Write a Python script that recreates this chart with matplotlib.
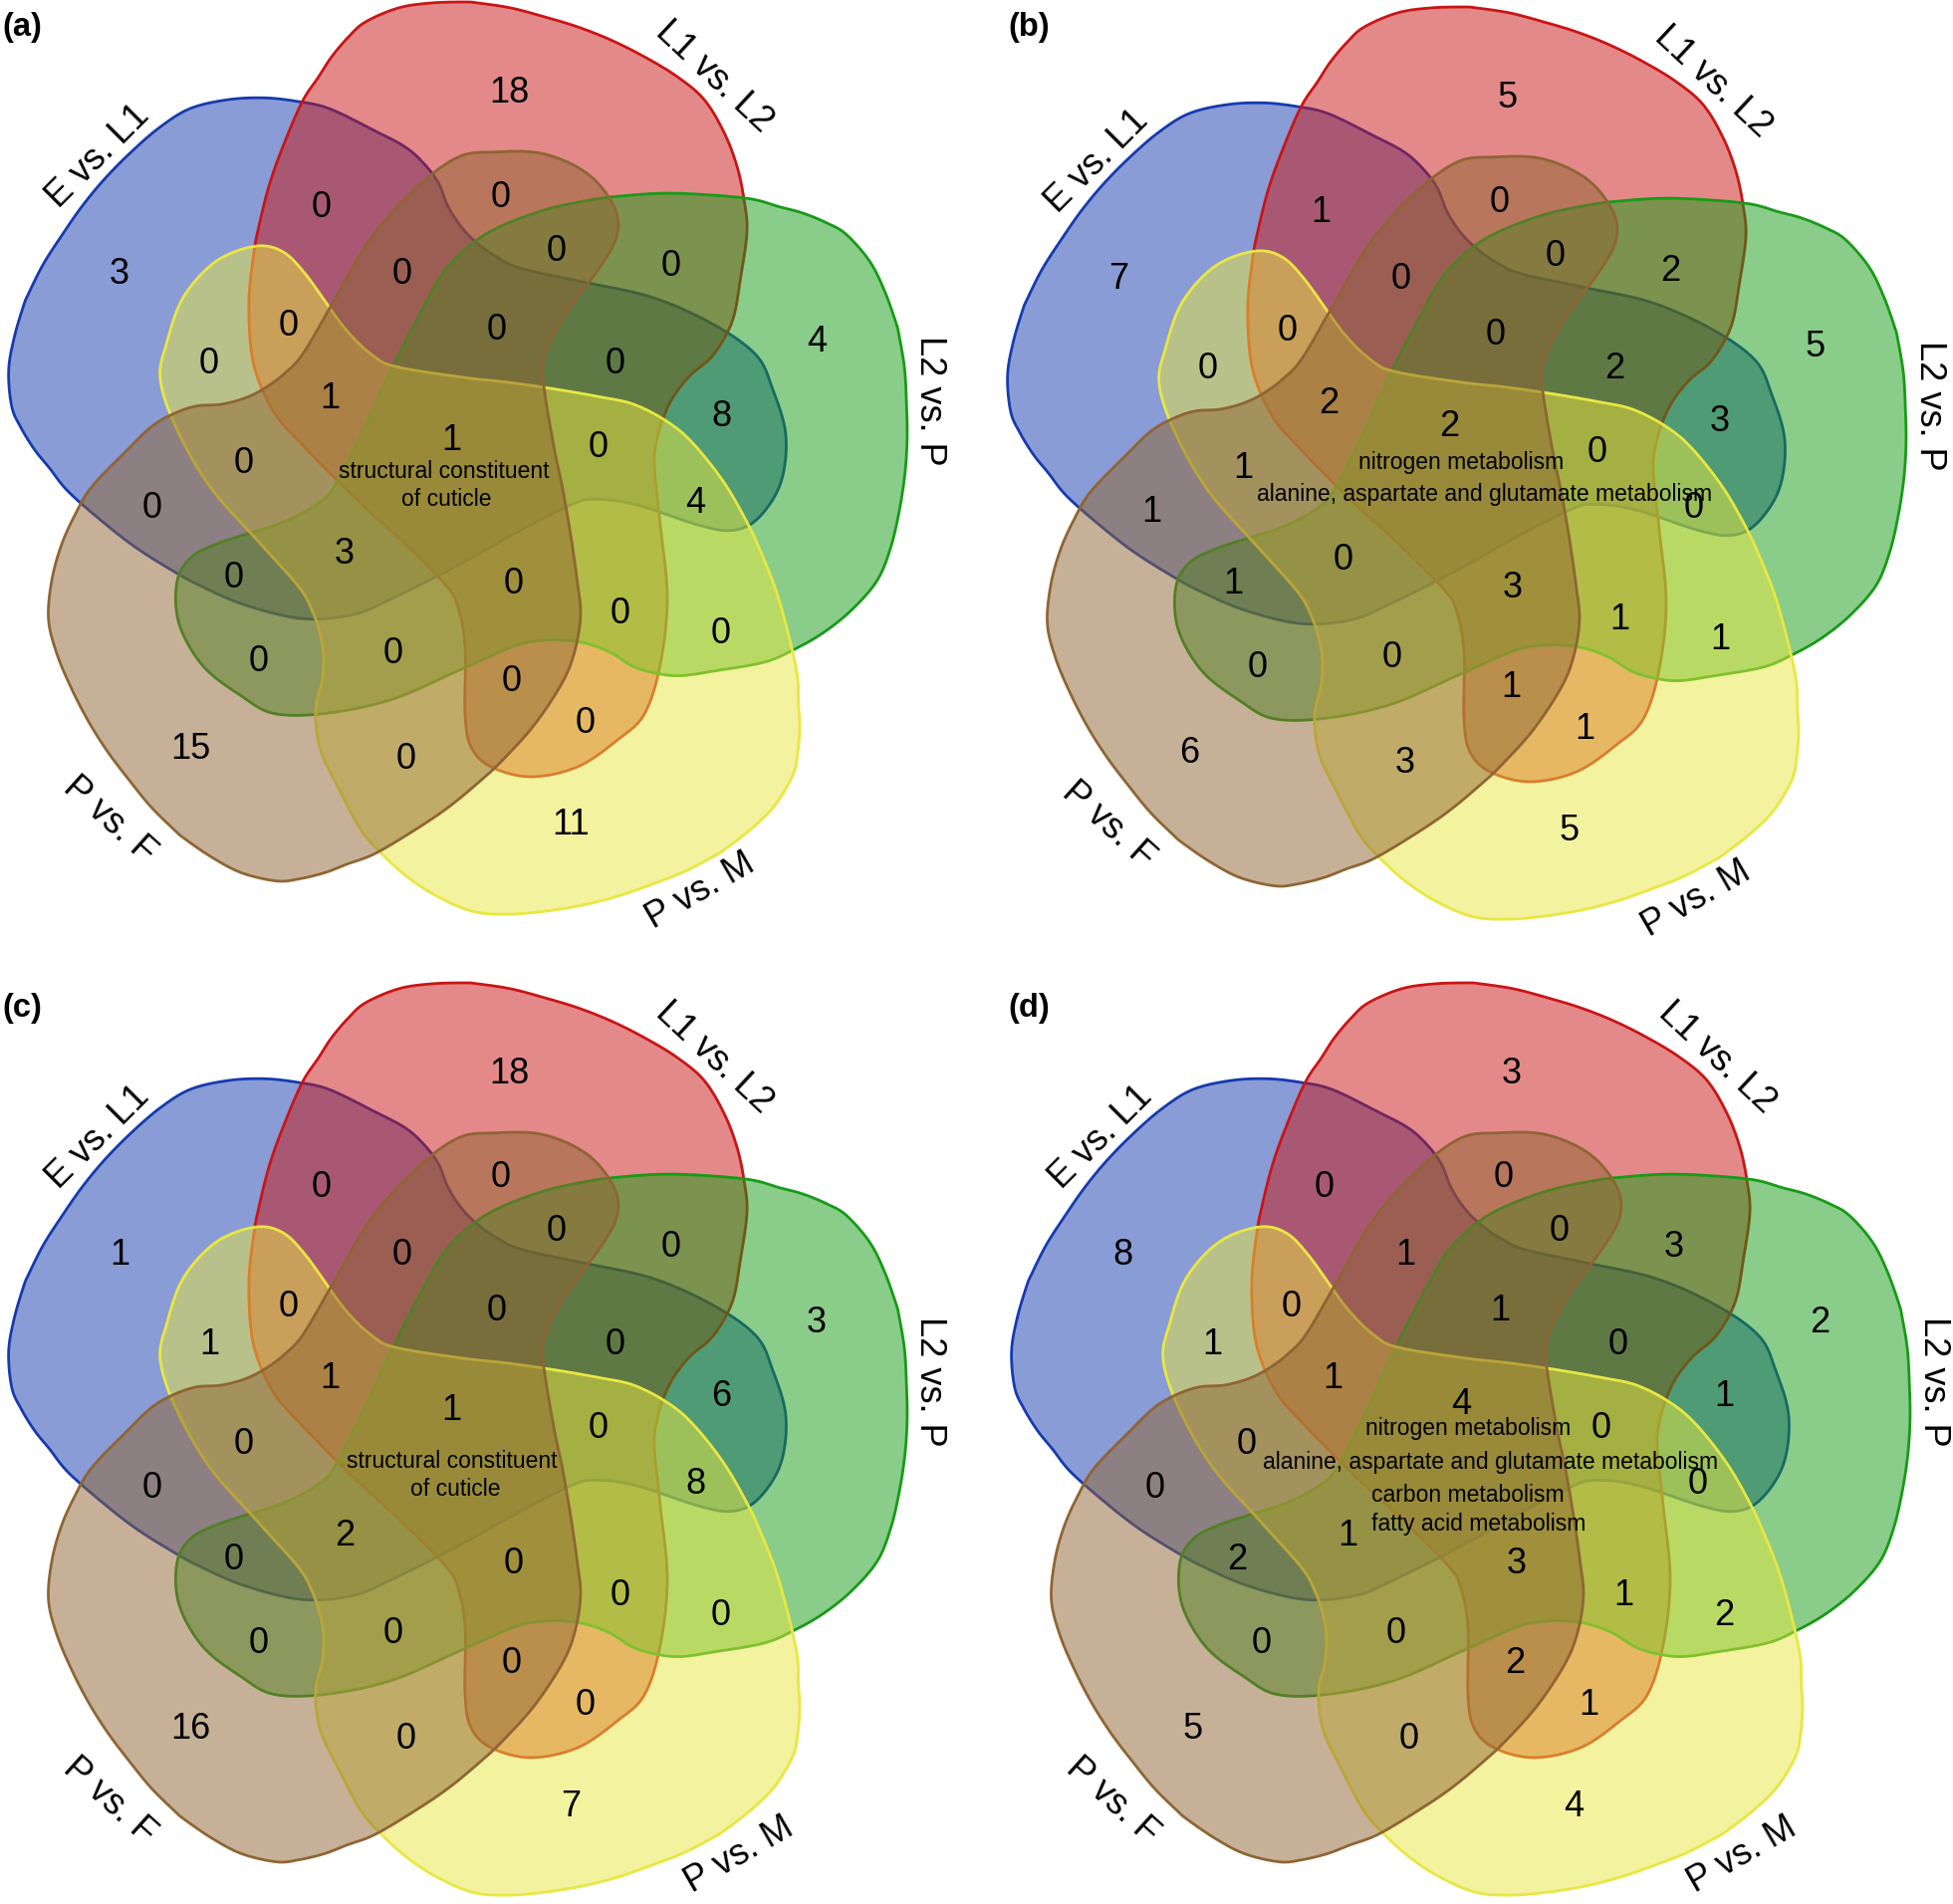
import numpy as np
import matplotlib.pyplot as plt
from matplotlib.patches import Polygon

plt.rcParams['font.family'] = ['Liberation Sans', 'DejaVu Sans']

# sets, drawn in this order
set_names = ['E vs. L1', 'L1 vs. L2', 'L2 vs. P', 'P vs. M', 'P vs. F']
set_colors = ['#153BAD', '#C91515', '#179B17', '#E9E741', '#8F6533']

# counts for the 31 regions, same region order in every panel
counts_a = [18, 3, 0, 0, 0, 0, 0, 4, 0, 0, 0, 0, 8, 1, 1, 0, 4, 0, 0, 3, 0, 0, 0, 0, 0, 0, 0, 0, 15, 0, 11]
counts_b = [5, 7, 1, 0, 0, 0, 2, 5, 0, 0, 0, 2, 3, 2, 2, 0, 0, 1, 1, 0, 1, 3, 1, 1, 0, 0, 1, 1, 6, 3, 5]
counts_c = [18, 1, 0, 0, 0, 0, 0, 3, 0, 1, 0, 0, 6, 1, 1, 0, 8, 0, 0, 2, 0, 0, 0, 0, 0, 0, 0, 0, 16, 0, 7]
counts_d = [3, 8, 0, 0, 1, 0, 3, 2, 0, 1, 1, 0, 1, 1, 4, 0, 0, 0, 0, 1, 2, 3, 1, 2, 0, 0, 2, 1, 5, 0, 4]

# terms shared by all five sets
notes_a = ['structural constituent', 'of cuticle']
notes_b = ['nitrogen metabolism', 'alanine, aspartate and glutamate metabolism']
notes_c = ['structural constituent', 'of cuticle']
notes_d = ['nitrogen metabolism', 'alanine, aspartate and glutamate metabolism',
           'carbon metabolism', 'fatty acid metabolism']

# ---- layout (pixels of one panel) ----
# outline of the top set, the others are the same shape turned by 72 deg
top_shape = [(303, 103), (320, 77), (333, 57), (350, 37), (367, 22), (400, 8), (433, 3), (467, 2),
             (480, 3), (513, 8), (547, 17), (580, 27), (613, 40), (647, 57), (680, 77), (707, 100),
             (727, 133), (740, 167), (747, 200), (750, 233), (743, 283), (737, 317), (727, 340),
             (713, 360), (693, 377), (677, 397), (667, 417), (660, 440), (657, 467), (663, 527),
             (670, 600), (663, 667), (647, 717), (620, 743), (580, 770), (533, 780), (493, 770),
             (473, 750), (467, 717), (467, 650), (460, 610), (447, 587), (400, 540), (367, 510),
             (333, 477), (300, 443), (277, 417), (260, 383), (252, 350), (250, 300), (255, 253),
             (260, 227), (270, 187), (283, 150)]
centre = (461.5, 461.0)
turns = [288, 0, 72, 144, 216]
nudge = [(-3, -7), (0, 0), (0, 0), (0, 18), (-2, 13)]

region_xy = [(511, 91), (120, 273), (323, 206), (503, 196), (404, 273), (559, 250), (674, 265),
             (820, 341), (290, 325), (210, 363), (499, 329), (618, 363), (724, 416), (331, 398),
             (453, 440), (601, 447), (698, 503), (245, 463), (153, 508), (346, 555), (235, 579),
             (516, 584), (623, 615), (724, 635), (260, 663), (395, 654), (514, 683), (588, 725),
             (191, 750), (408, 760), (573, 827)]

label_xy = [(98, 157), (717, 77), (934, 402), (703, 895), (110, 823)]
label_rot = [45, -43, -90, 30, -42]

panels = [
    ('(a)', (0, 0), counts_a, notes_a, (453, 440), [(446, 473), (448, 501)], (703, 895)),
    ('(b)', (1003, 5), counts_b, notes_b, (452, 421), [(464, 459), (488, 491)], (700, 898)),
    ('(c)', (0, 985), counts_c, notes_c, (453, 430), [(454, 483), (457, 510)], (742, 878)),
    ('(d)', (1007, 985), counts_d, notes_d, (460, 423),
     [(467, 450), (490, 484), (467, 516), (478, 546)], (742, 878)),
]
tag_xy = [(2, 27), (1012, 27), (2, 1012), (1012, 1012)]


def closed_curve(pts, n=16):
    # catmull-rom through the traced points
    P = np.asarray(pts, float)
    t = np.linspace(0, 1, n, endpoint=False)[:, None]
    out = []
    for i in range(len(P)):
        p0, p1, p2, p3 = P[i - 1], P[i], P[(i + 1) % len(P)], P[(i + 2) % len(P)]
        out.append(0.5 * (2 * p1 + (p2 - p0) * t + (2 * p0 - 5 * p1 + 4 * p2 - p3) * t ** 2
                          + (3 * p1 - p0 - 3 * p2 + p3) * t ** 3))
    return np.vstack(out)


def turn(xy, deg):
    a = np.radians(deg)
    d = xy - np.array(centre)
    x = d[:, 0] * np.cos(a) - d[:, 1] * np.sin(a)
    y = d[:, 0] * np.sin(a) + d[:, 1] * np.cos(a)
    return np.column_stack([x, y]) + np.array(centre)


base = closed_curve(top_shape)

fig = plt.figure(figsize=(19.61, 19.12), dpi=100)
ax = fig.add_axes([0, 0, 1, 1])
ax.set_xlim(0, 1961)
ax.set_ylim(1912, 0)
ax.axis('off')

for (tag, off, counts, notes, mid_xy, note_xy, pm_xy), txy in zip(panels, tag_xy):
    ox, oy = off
    for k in range(5):
        shp = turn(base, turns[k]) + np.array([ox + nudge[k][0], oy + nudge[k][1]])
        rgb = plt.matplotlib.colors.to_rgb(set_colors[k])
        ax.add_patch(Polygon(shp, closed=True, facecolor=rgb + (0.5,),
                             edgecolor=rgb, lw=2.0))
    for i, c in enumerate(counts):
        x, y = region_xy[i]
        if i == 14:
            x, y = mid_xy
        ax.text(ox + x, oy + y + 2, str(c), ha='center', va='center', fontsize=26)
    for s, (x, y) in zip(notes, note_xy):
        ax.text(ox + x, oy + y, s, ha='center', va='center', fontsize=16.5)
    for k in range(5):
        x, y = label_xy[k]
        if k == 3:
            x, y = pm_xy
        ax.text(ox + x, oy + y, set_names[k], ha='center', va='center',
                rotation=label_rot[k], rotation_mode='anchor', fontsize=26)
    ax.text(txy[0], txy[1], tag, ha='left', va='center', fontsize=23.5, fontweight='bold')

fig.savefig('out.png', dpi=100)
